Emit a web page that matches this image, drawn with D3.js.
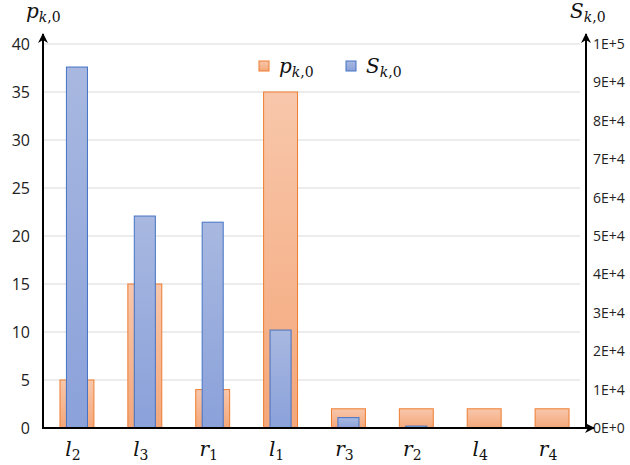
<!DOCTYPE html>
<html>
<head>
<meta charset="utf-8">
<script src="https://cdnjs.cloudflare.com/ajax/libs/d3/7.8.5/d3.min.js"></script>
<style>
body { margin: 0; background: #fff; }
.tick text { font-family: "Open Sans", "Liberation Sans", sans-serif; fill: #222; }
.mathlbl { font-family: "DejaVu Serif", "Liberation Serif", serif; font-style: italic; fill: #111; }
</style>
</head>
<body>
<div id="chart"></div>
<script>
// categories and values
var categories = ["l2", "l3", "r1", "l1", "r3", "r2", "l4", "r4"];
var pValues = [5, 15, 4, 35, 2, 2, 2, 2];
var sValues = [94000, 55200, 53600, 25500, 2700, 500, 0, 0];
var leftTicks = [0, 5, 10, 15, 20, 25, 30, 35, 40];
var rightTicks = [0, 1e4, 2e4, 3e4, 4e4, 5e4, 6e4, 7e4, 8e4, 9e4, 1e5];

var svg = d3.select("#chart").append("svg")
    .attr("width", 630)
    .attr("height", 465);

var defs = svg.append("defs");
var g1 = defs.append("linearGradient").attr("id", "gradP").attr("x1", 0).attr("y1", 0).attr("x2", 0).attr("y2", 1);
g1.append("stop").attr("offset", "0%").attr("stop-color", "#f8c7ab");
g1.append("stop").attr("offset", "100%").attr("stop-color", "#f4a77a");
var g2 = defs.append("linearGradient").attr("id", "gradS").attr("x1", 0).attr("y1", 0).attr("x2", 0).attr("y2", 1);
g2.append("stop").attr("offset", "0%").attr("stop-color", "#a8b8e0");
g2.append("stop").attr("offset", "100%").attr("stop-color", "#8aa1da");

defs.append("marker")
    .attr("id", "arrow")
    .attr("viewBox", "0 0 10 10")
    .attr("refX", 9).attr("refY", 5)
    .attr("markerWidth", 5).attr("markerHeight", 5)
    .attr("orient", "auto")
    .append("path")
    .attr("d", "M0,0 L10,5 L0,10 L3,5 Z")
    .attr("fill", "#000");

var x = d3.scaleBand()
    .domain(categories)
    .range([43, 586]);

var yLeft = d3.scaleLinear()
    .domain([0, 40])
    .range([428, 44]);

var yRight = d3.scaleLinear()
    .domain([0, 1e5])
    .range([428, 44]);

// gridlines
svg.selectAll(".grid")
    .data(leftTicks.slice(1))
    .enter().append("line")
    .attr("x1", 43).attr("x2", 580)
    .attr("y1", function(d) { return yLeft(d); })
    .attr("y2", function(d) { return yLeft(d); })
    .attr("stroke", "#d9d9d9")
    .attr("stroke-width", 1);

var pw = x.bandwidth() * 0.5;
var sw = x.bandwidth() * 0.31;

svg.selectAll(".barp")
    .data(pValues)
    .enter().append("rect")
    .attr("x", function(d, i) { return x(categories[i]) + (x.bandwidth() - pw) / 2; })
    .attr("y", function(d) { return yLeft(d); })
    .attr("width", pw)
    .attr("height", function(d) { return 428 - yLeft(d); })
    .attr("fill", "url(#gradP)")
    .attr("stroke", "#ed7d31")
    .attr("stroke-width", 1);

svg.selectAll(".bars")
    .data(sValues)
    .enter().append("rect")
    .attr("x", function(d, i) { return x(categories[i]) + (x.bandwidth() - sw) / 2; })
    .attr("y", function(d) { return yRight(d); })
    .attr("width", sw)
    .attr("height", function(d) { return 428 - yRight(d); })
    .attr("fill", "url(#gradS)")
    .attr("stroke", function(d) { return d > 0 ? "#4472c4" : "none"; })
    .attr("stroke-width", 1);

// axes (labels only, lines drawn separately with arrows)
var leftAxis = svg.append("g")
    .attr("transform", "translate(43,0)")
    .call(d3.axisLeft(yLeft).tickValues(leftTicks).tickSize(0).tickPadding(13));
leftAxis.select(".domain").remove();
leftAxis.selectAll("text").style("font-size", "16px");

var rightAxis = svg.append("g")
    .attr("transform", "translate(586,0)")
    .call(d3.axisRight(yRight).tickValues(rightTicks).tickSize(0).tickPadding(7)
        .tickFormat(function(d) { return d3.format(".0e")(d).toUpperCase(); }));
rightAxis.select(".domain").remove();
rightAxis.selectAll("text").style("font-size", "14px");

svg.append("line").attr("x1", 43).attr("y1", 429).attr("x2", 43).attr("y2", 34)
    .attr("stroke", "#000").attr("stroke-width", 2).attr("marker-end", "url(#arrow)");
svg.append("line").attr("x1", 586).attr("y1", 429).attr("x2", 586).attr("y2", 34)
    .attr("stroke", "#000").attr("stroke-width", 2).attr("marker-end", "url(#arrow)");
svg.append("line").attr("x1", 42).attr("y1", 428).attr("x2", 594).attr("y2", 428)
    .attr("stroke", "#000").attr("stroke-width", 2).attr("marker-end", "url(#arrow)");

// category labels
var catText = svg.selectAll(".cat")
    .data(categories)
    .enter().append("text")
    .attr("class", "mathlbl")
    .attr("x", function(d) { return x(d) + x.bandwidth() / 2 - 4; })
    .attr("y", 456)
    .attr("text-anchor", "middle")
    .style("font-size", "20px");
catText.append("tspan").text(function(d) { return d[0]; });
catText.append("tspan").attr("dy", 4).style("font-size", "14px").style("font-style", "normal")
    .text(function(d) { return d[1]; });

// axis titles
function mathTitle(xp, yp, letter) {
    var t = svg.append("text").attr("class", "mathlbl").attr("x", xp).attr("y", yp)
        .style("font-size", "20px");
    t.append("tspan").text(letter);
    t.append("tspan").attr("dy", 4).style("font-size", "14px").text("k");
    t.append("tspan").style("font-size", "14px").style("font-style", "normal").text(",0");
    return t;
}
mathTitle(26, 18, "p");
mathTitle(570, 18, "S");

// legend
svg.append("rect").attr("x", 259).attr("y", 61).attr("width", 10).attr("height", 10)
    .attr("fill", "url(#gradP)").attr("stroke", "#ed7d31");
mathTitle(279, 73, "p");
svg.append("rect").attr("x", 346).attr("y", 61).attr("width", 10).attr("height", 10)
    .attr("fill", "url(#gradS)").attr("stroke", "#4472c4");
mathTitle(366, 73, "S");
</script>
</body>
</html>
